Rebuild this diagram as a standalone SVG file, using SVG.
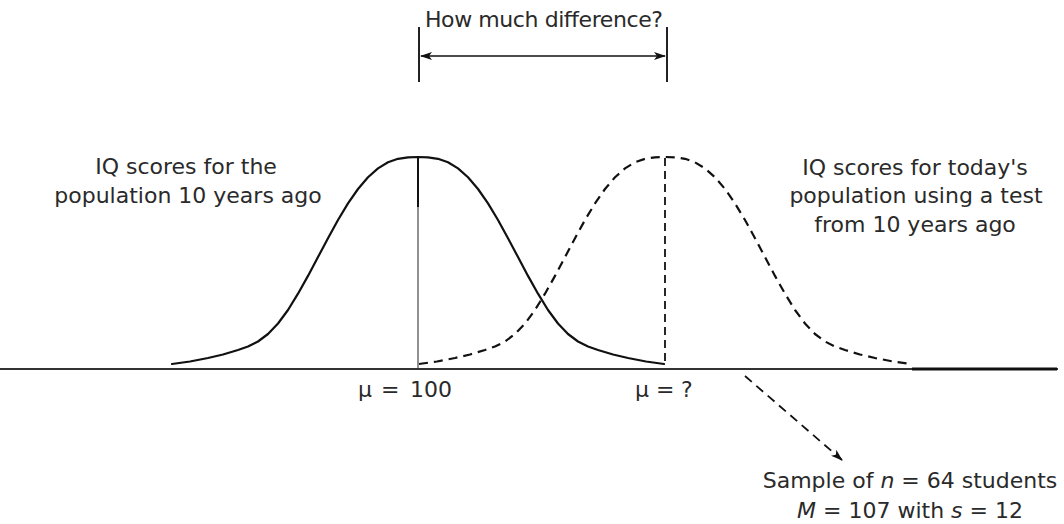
<svg xmlns="http://www.w3.org/2000/svg" width="1064" height="524" viewBox="0 0 1064 524">
<style>
.t{font-family:"DejaVu Sans","Liberation Sans",sans-serif;fill:#2a2a2a;font-size:22px}
.solid{fill:none;stroke:#111;stroke-width:2.2;stroke-linejoin:round;stroke-linecap:round}
.dash{fill:none;stroke:#111;stroke-width:2.2;stroke-dasharray:9 6;stroke-linejoin:round}
.ln{fill:none;stroke:#222;stroke-width:2}
</style>
<defs>
<marker id="ah" viewBox="0 0 12 8" refX="11" refY="4" markerWidth="12" markerHeight="8" markerUnits="userSpaceOnUse" orient="auto-start-reverse">
<path d="M0,0 L12,4 L0,8 L3,4 Z" fill="#111"/>
</marker>
</defs>
<g id="axis">
<line x1="0" y1="369" x2="1058" y2="369" stroke="#333" stroke-width="1.8"/>
<line x1="912" y1="369" x2="1057" y2="369" stroke="#111" stroke-width="3"/>
</g>
<g id="population-past">
<path class="solid" d="M172,364 L190,361.5 L208,358 L223,354.5 L238,350 L248,346.5 L258,341.5 L268,334 L278,323.5 L288,310 L298,293.7 L308,275.9 L318,257.1 L328,238.2 L338,220 L348,203.4 L358,189 L368,177.3 L378,168.4 L388,162.3 L398,158.8 L408,157.3 L418,157 L428,157.3 L438,158.8 L448,162.3 L458,168.4 L468,177.3 L478,189 L488,203.4 L498,220 L508,238.2 L518,257.1 L528,275.9 L538,293.7 L548,310 L558,323.5 L568,334 L578,341.5 L588,346.5 L598,350 L613,354.5 L628,358 L646,361.5 L664,364"/>
<line x1="418" y1="157" x2="418" y2="207" stroke="#111" stroke-width="2"/>
<line x1="418" y1="207" x2="418" y2="368" stroke="#555" stroke-width="1.3"/>
<text class="t" x="186" y="174" text-anchor="middle">IQ scores for the</text>
<text class="t" x="188" y="203" text-anchor="middle">population 10 years ago</text>
<text class="t" y="397" font-size="20"><tspan x="358">μ</tspan><tspan x="381">=</tspan><tspan x="410">100</tspan></text>
</g>
<g id="population-today">
<path class="dash" d="M419,364 L437,361.5 L455,358 L470,354.5 L485,350 L495,346.5 L505,341.5 L515,334 L525,323.5 L535,310 L545,293.7 L555,275.9 L565,257.1 L575,238.2 L585,220 L595,203.4 L605,189 L615,177.3 L625,168.4 L635,162.3 L645,158.8 L655,157.3 L665,157 L675,157.3 L685,158.8 L695,162.3 L705,168.4 L715,177.3 L725,189 L735,203.4 L745,220 L755,238.2 L765,257.1 L775,275.9 L785,293.7 L795,310 L805,323.5 L815,334 L825,341.5 L835,346.5 L845,350 L860,354.5 L875,358 L893,361.5 L911,364"/>
<line x1="665" y1="158" x2="665" y2="366" stroke="#111" stroke-width="1.8" stroke-dasharray="8 5"/>
<text class="t" x="915" y="175" text-anchor="middle">IQ scores for today's</text>
<text class="t" x="916" y="203" text-anchor="middle">population using a test</text>
<text class="t" x="915" y="232" text-anchor="middle">from 10 years ago</text>
<text class="t" y="397" font-size="20"><tspan x="635">μ</tspan><tspan x="656">=</tspan><tspan x="681">?</tspan></text>
</g>
<g id="difference">
<text class="t" x="425" y="27" font-size="20" textLength="238">How much difference?</text>
</g>
<g id="sample">
<text class="t" x="910" y="488" text-anchor="middle">Sample of <tspan font-style="italic">n</tspan> = 64 students</text>
<text class="t" x="910" y="518" text-anchor="middle"><tspan font-style="italic">M</tspan> = 107 with <tspan font-style="italic">s</tspan> = 12</text>
</g>
<g id="connectors">
<line class="ln" x1="419" y1="27" x2="419" y2="82"/>
<line class="ln" x1="667" y1="27" x2="667" y2="82"/>
<line x1="421" y1="56" x2="665" y2="56" stroke="#111" stroke-width="1.5" marker-start="url(#ah)" marker-end="url(#ah)"/>
<line x1="745" y1="376" x2="842" y2="460" stroke="#111" stroke-width="1.8" stroke-dasharray="9 6" marker-end="url(#ah)"/>
</g>
</svg>
